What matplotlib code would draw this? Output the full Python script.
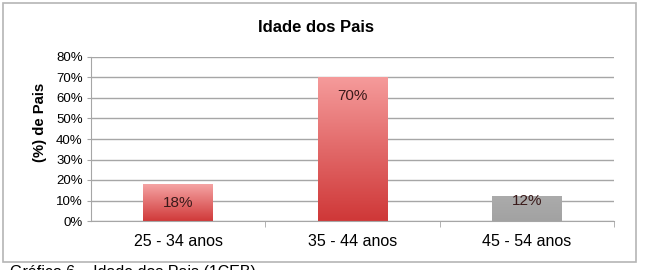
import numpy as np
import matplotlib.pyplot as plt
from matplotlib.patches import Rectangle
from matplotlib.colors import LinearSegmentedColormap

plt.rcParams['font.family'] = ['Liberation Sans', 'DejaVu Sans']

# dados
categorias = ['25 - 34 anos', '35 - 44 anos', '45 - 54 anos']
valores = [18, 70, 12]
rotulos = ['18%', '70%', '12%']
yticks = [0, 10, 20, 30, 40, 50, 60, 70, 80]

cor_topo = ['#f5a3a3', '#f59a9a', '#ababab']
cor_base = ['#d03a3a', '#cf3838', '#a2a2a2']

fig = plt.figure(figsize=(6.45, 2.7), dpi=100)
ax = fig.add_axes([91 / 645, 1 - 221 / 270, 523 / 645, 164 / 270])

# moldura do gráfico
fig.patches.append(Rectangle((3 / 645, 1 - 262 / 270), 633 / 645, 259 / 270,
                             transform=fig.transFigure, fill=False,
                             edgecolor='#b5b5b5', lw=1.2))

x = np.arange(len(categorias))
ax.set_xlim(-0.5, 2.5)
ax.set_ylim(0, 80)
ax.set_yticks(yticks)
ax.set_yticklabels([f'{t}%' for t in yticks], fontsize=9.5)
ax.yaxis.grid(True, color='#a6a6a6', lw=1)
ax.set_axisbelow(True)

bars = ax.bar(x, valores, width=0.40, color='none', edgecolor='none', zorder=2)
for b, c1, c2 in zip(bars, cor_topo, cor_base):
    cmap = LinearSegmentedColormap.from_list('g', [c2, c1])
    grad = np.linspace(0, 1, 100).reshape(-1, 1)
    x0, y0 = b.get_x(), b.get_y()
    im = ax.imshow(grad, cmap=cmap, origin='lower', aspect='auto',
                   extent=(x0, x0 + b.get_width(), y0, y0 + b.get_height()),
                   zorder=2)
    im.set_clip_path(b)

for xi, v, r in zip(x, valores, rotulos):
    off = -19 if v > 15 else -5
    ax.annotate(r, (xi, v), xytext=(0, off), textcoords='offset pixels',
                ha='center', va='center', fontsize=11, color='#3a1a1a', zorder=3)

ax.set_xticks(x)
ax.set_xticklabels(categorias, fontsize=11.5)
ax.tick_params(axis='x', length=0, pad=9)
ax.set_xticks([0.5, 1.5, 2.5], minor=True)
ax.tick_params(axis='x', which='minor', length=4, color='#a6a6a6')
ax.tick_params(axis='y', length=3, color='#a6a6a6', pad=3)

for s in ['top', 'right']:
    ax.spines[s].set_visible(False)
for s in ['left', 'bottom']:
    ax.spines[s].set_color('#a6a6a6')

ax.set_ylabel('(%) de Pais', fontsize=10.7, fontweight='bold')
ax.yaxis.set_label_coords(-0.085, 0.6)
fig.text(316 / 645, 1 - 27 / 270, 'Idade dos Pais', ha='center', va='center',
         fontsize=12, fontweight='bold')
fig.text(10 / 645, 1 - 265 / 270, 'Gráfico 6 – Idade dos Pais (1CEB)',
         ha='left', va='top', fontsize=11.5)

fig.savefig('out.png', dpi=100)
